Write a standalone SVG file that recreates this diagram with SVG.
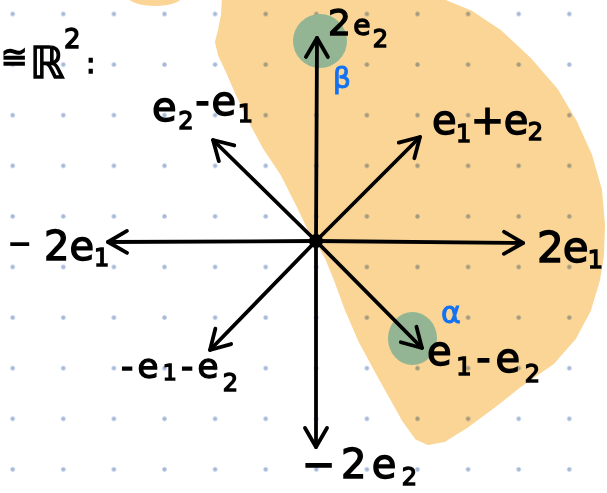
<svg xmlns="http://www.w3.org/2000/svg" width="607" height="493" viewBox="0 0 607 493">
<style>
.lbl{font-family:"DejaVu Sans","Liberation Sans",sans-serif;fill:#000;stroke:#000;stroke-width:1.4;}
.greek{font-family:"DejaVu Sans","Liberation Sans",sans-serif;fill:#1372f2;stroke:#1372f2;stroke-width:1;}
.ax{stroke:#000;stroke-width:3.8;stroke-linecap:round;fill:none;marker-end:url(#ah);}
.dot{fill:#a6b9da;}
.dots{mix-blend-mode:multiply;}
.hl{fill:#93b594;}
.reg{fill:#fad595;stroke:#fad595;stroke-width:4;stroke-linejoin:round;}
</style>
<defs>
<marker id="ah" markerUnits="userSpaceOnUse" viewBox="-25 -15 30 30" markerWidth="30" markerHeight="30" refX="0" refY="0" orient="auto" overflow="visible">
<path d="M-19,-11 L0,0 L-19,11" fill="none" stroke="#000" stroke-width="3.8" stroke-linecap="round" stroke-linejoin="round"/>
</marker>
<pattern id="grid" patternUnits="userSpaceOnUse" x="-12.6" y="-11.3" width="50.6" height="50.6">
<circle cx="25.3" cy="25.3" r="2.2" class="dot"/>
</pattern>
</defs>
<rect width="607" height="493" fill="#fff"/>
<g id="region">
<path class="reg" d="M224,-3 L433,-3 L470,12 L500,32 L530,60 L556,90 L575,122 L590,155 L600,190 L603,225 L602,255 L598,280 L589,310 L574,338 L553,362 L520,385 L495,405 L468,425 L444,440 L428,443 L417,438 L404,420 L390,395 L375,368 L360,340 L347,310 L336,280 L327,258 L318,242 L310,230 L298,205 L283,175 L265,148 L250,120 L238,95 L228,72 L220,55 L217,42 L220,30 L223,15 Z"/>
<ellipse class="reg" cx="155" cy="-5" rx="26" ry="9"/>
</g>
<g class="dots">
<rect x="0" y="0" width="607" height="493" fill="url(#grid)"/>
</g>
<g id="marks">
<circle class="hl" cx="320" cy="41" r="27"/>
<ellipse class="hl" cx="412.5" cy="338.5" rx="24.5" ry="26.5"/>
</g>
<g id="connectors">
<line class="ax" x1="316" y1="241" x2="317" y2="38"/>
<line class="ax" x1="316" y1="241" x2="316" y2="447"/>
<line class="ax" x1="316" y1="241" x2="108" y2="242"/>
<line class="ax" x1="316" y1="241" x2="523" y2="243"/>
<line class="ax" x1="316" y1="241" x2="420" y2="137"/>
<line class="ax" x1="316" y1="241" x2="213" y2="140"/>
<line class="ax" x1="316" y1="241" x2="422" y2="348"/>
<line class="ax" x1="316" y1="241" x2="210" y2="350"/>
<circle cx="316" cy="241" r="7" fill="#000"/>
</g>
<g id="title">
<text class="lbl" x="1" y="68" font-size="32">≅</text>
<text class="lbl" x="30" y="78" font-size="44">ℝ</text>
<text class="lbl" x="64" y="48" font-size="26">2</text>
<text class="lbl" x="86" y="73" font-size="28">:</text>
</g>
<g id="n-2e2">
<text class="lbl" x="328" y="35" font-size="36" textLength="60" lengthAdjust="spacing">2<tspan font-size="28">e</tspan><tspan font-size="24" dy="12">2</tspan></text>
<text class="greek" x="333" y="88" font-size="28">β</text>
</g>
<g id="n-e1pe2">
<text class="lbl" x="432" y="134" font-size="40" textLength="111" lengthAdjust="spacing">e<tspan font-size="24" dy="8">1</tspan><tspan dy="-8">+</tspan>e<tspan font-size="24" dy="6">2</tspan></text>
</g>
<g id="n-2e1">
<text class="lbl" x="537" y="262" font-size="42" textLength="66" lengthAdjust="spacing">2e<tspan font-size="24" dy="6">1</tspan></text>
</g>
<g id="n-m2e1">
<text class="lbl" font-size="40"><tspan x="8" y="253" font-size="28">−</tspan><tspan x="44" y="260">2e</tspan><tspan font-size="24" dy="6">1</tspan></text>
</g>
<g id="n-e2me1">
<text class="lbl" x="152" y="121" font-size="40" textLength="101" lengthAdjust="spacing">e<tspan font-size="24" dy="8">2</tspan><tspan dy="-14">-</tspan>e<tspan font-size="24" dy="7">1</tspan></text>
</g>
<g id="n-e1me2">
<text class="lbl" x="427" y="365" font-size="40" textLength="113" lengthAdjust="spacing">e<tspan font-size="24" dy="10">1</tspan><tspan dy="-3">-</tspan>e<tspan font-size="24" dy="10">2</tspan></text>
<text class="greek" x="441" y="323" font-size="30">α</text>
</g>
<g id="n-me1me2">
<text class="lbl" x="121" y="378" font-size="34" textLength="117" lengthAdjust="spacing">-e<tspan font-size="22" dy="2">1</tspan><tspan dy="-2">-</tspan>e<tspan font-size="24" dy="13">2</tspan></text>
</g>
<g id="n-m2e2">
<text class="lbl" x="302" y="478" font-size="40" textLength="115" lengthAdjust="spacing">−2e<tspan font-size="24" dy="7">2</tspan></text>
</g>
</svg>
